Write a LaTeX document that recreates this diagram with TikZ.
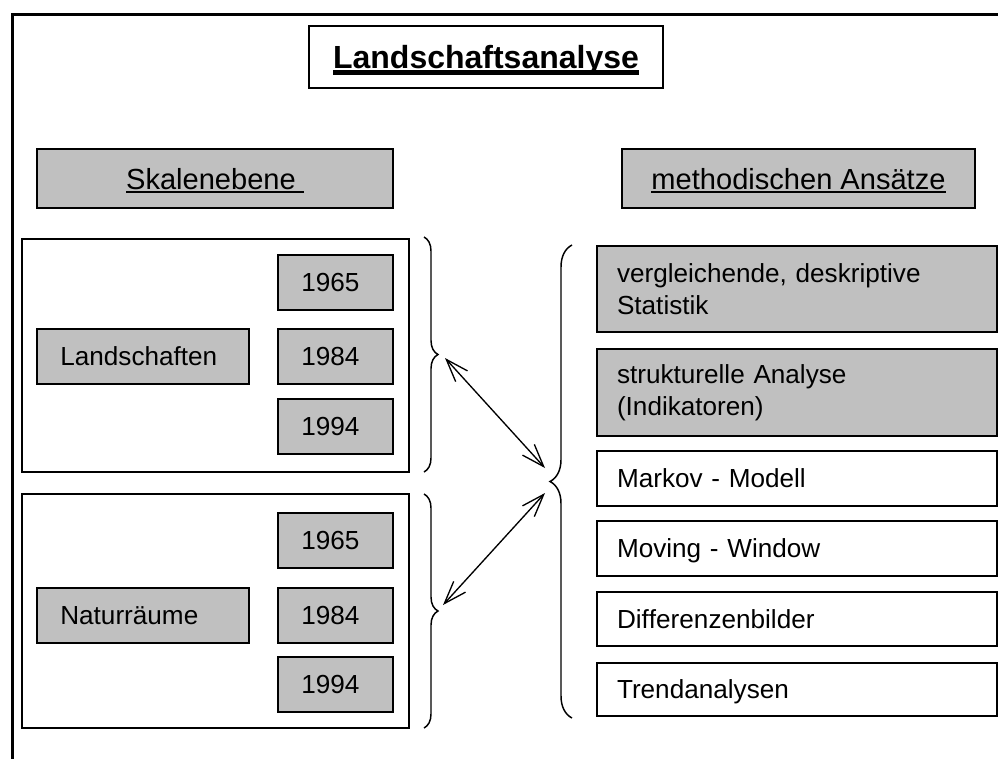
\documentclass[tikz,border=0pt]{standalone}
\usepackage{fontspec}
\setmainfont{Liberation Sans}[Ligatures=NoCommon]
\usetikzlibrary{decorations.pathreplacing,arrows.meta}
\definecolor{boxgray}{HTML}{C0C0C0}
\newsavebox\ulbox
\newcommand\myuline[3]{\sbox\ulbox{#3}\rlap{\rule[#1]{\wd\ulbox}{#2}}\usebox\ulbox}
\newcommand\titlefont{\fontsize{24}{28}\selectfont\bfseries}
\newcommand\headfont{\fontsize{21.8}{26}\selectfont}
\newcommand\bodyfont{\fontsize{19.6}{24}\selectfont}
\begin{document}
\begin{tikzpicture}[x=0.75pt,y=-0.75pt,
  frame/.style={line width=2.25pt},
  bx/.style={draw=black, line width=1.5pt, inner sep=0pt, font=\bodyfont},
  graybox/.style={bx, fill=boxgray},
  whitebox/.style={bx, fill=white},
  oneline/.style={text height=13.8pt, text depth=0pt},
  headbox/.style={graybox, font=\headfont, text height=16pt, text depth=0pt, minimum height=44.25pt},
  labelbox/.style={graybox, oneline, align=left, inner xsep=17.5pt, text width=124pt, minimum width=159pt, minimum height=41.25pt},
  yearbox/.style={graybox, oneline, align=left, inner xsep=17.5pt, text width=51.25pt, minimum width=86.25pt, minimum height=41.25pt},
  groupbox/.style={draw=black, line width=1.5pt, fill=white, minimum width=290.25pt},
  methbox/.style={bx, align=left, inner xsep=15pt, text width=270pt, minimum width=300pt},
  bracestyle/.style={draw=black, line width=1.1pt, decorate},
  conn/.style={line width=1pt, arrows={Straight Barb[length=17pt,width=12pt]-Straight Barb[length=17pt,width=12pt]}}
]
\useasboundingbox (0,0) rectangle (998,758);
\fill[white] (0,0) rectangle (998,758);
% outer frame (cropped at right and bottom)
\draw[frame] (12,790) -- (12,14.5) -- (1030,14.5);

% title
\node[draw=black, line width=1.6pt, fill=white, inner sep=0pt, minimum width=265.5pt, minimum height=46.5pt,
      font=\titlefont, text height=17pt, text depth=0pt] (title) at (486,57)
      {\myuline{-4.7pt}{3.2pt}{Landschaftsanalyse}};

% headers
\node[headbox, minimum width=267pt] (skal) at (215,178.5) {\myuline{-3pt}{1.4pt}{Skalenebene\ }};
\node[headbox, minimum width=264.75pt] (meth) at (798.5,178.5) {\myuline{-3pt}{1.4pt}{methodischen Ansätze}};

% group Landschaften
\node[groupbox, minimum height=174.75pt] (grpA) at (215.5,355.5) {};
\node[labelbox] (land) at (143,356.5) {Landschaften};
\node[yearbox] (a1965) at (335.5,282.5) {1965};
\node[yearbox] (a1984) at (335.5,356.5) {1984};
\node[yearbox] (a1994) at (335.5,426.5) {1994};

% group Naturraeume
\node[groupbox, minimum height=175.5pt] (grpB) at (215.5,611) {};
\node[labelbox] (natur) at (143,615) {Naturräume};
\node[yearbox] (b1965) at (335.5,540) {1965};
\node[yearbox] (b1984) at (335.5,615) {1984};
\node[yearbox] (b1994) at (335.5,684.5) {1994};

% methods
\node[methbox, fill=boxgray, minimum height=64.5pt] (m1) at (797,289) {vergleichende, deskriptive\\Statistik};
\node[methbox, fill=boxgray, minimum height=65.25pt] (m2) at (797,392.5) {strukturelle Analyse\\(Indikatoren)};
\node[methbox, fill=white, oneline, minimum height=41.25pt] (m3) at (797,478.5) {Markov - Modell};
\node[methbox, fill=white, oneline, minimum height=41.25pt] (m4) at (797,548.5) {Moving - Window};
\node[methbox, fill=white, oneline, minimum height=40.5pt] (m5) at (797,619) {Dif\kern0ptferenzenbilder};
\node[methbox, fill=white, oneline, minimum height=39.75pt] (m6) at (797,689.5) {Trendanalysen};

% braces
\coordinate (bA1) at (424,237);
\coordinate (bA2) at (424,472);
\coordinate (bB1) at (424,494);
\coordinate (bB2) at (424,728);
\coordinate (bR1) at (572,718);
\coordinate (bR2) at (572,245);
\draw[bracestyle, decoration={brace, amplitude=10.5pt}] (bA1) -- (bA2);
\draw[bracestyle, decoration={brace, amplitude=10.5pt}] (bB1) -- (bB2);
\draw[bracestyle, decoration={brace, amplitude=16.5pt}] (bR1) -- (bR2);

% arrows
\coordinate (u1) at (445,358);
\coordinate (u2) at (545,468);
\coordinate (l1) at (545,493);
\coordinate (l2) at (443,605);
\draw[conn] (u1) -- (u2);
\draw[conn] (l1) -- (l2);
\end{tikzpicture}
\end{document}
